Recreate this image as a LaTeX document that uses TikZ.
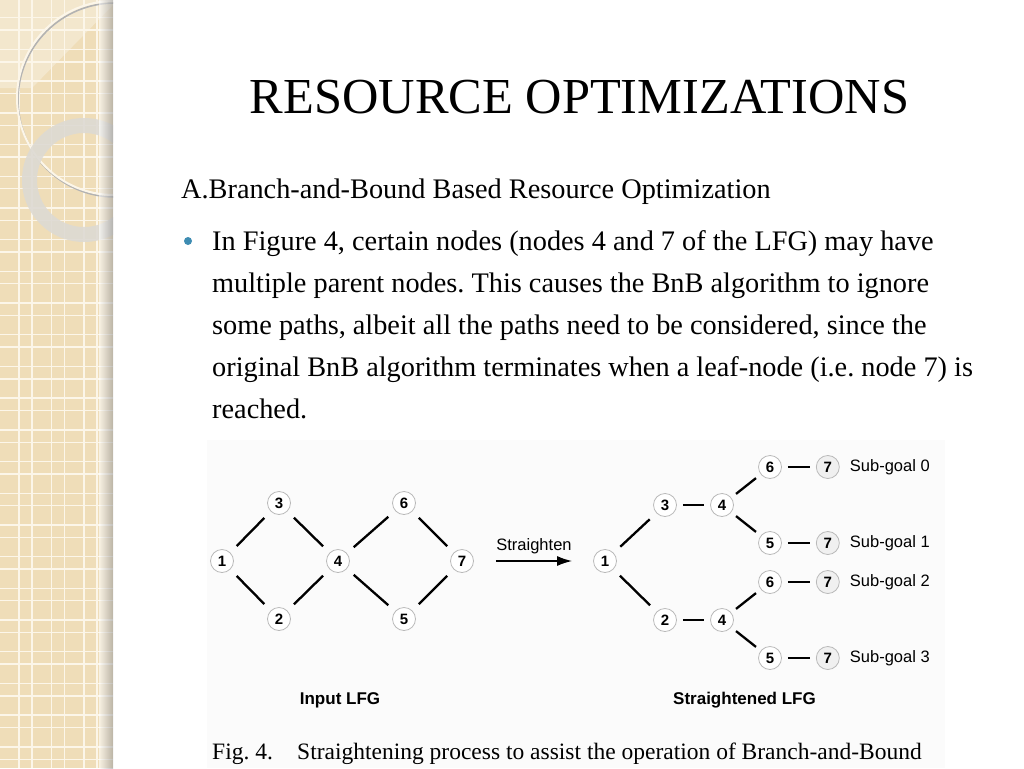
\documentclass[tikz,border=0pt]{standalone}
\usepackage{fontspec}
\setmainfont{Liberation Serif}
\setsansfont{Liberation Sans}
\usetikzlibrary{arrows.meta}
\usetikzlibrary{positioning}
\frenchspacing

\definecolor{stripbg}{RGB}{239,221,184}
\definecolor{stripline}{RGB}{252,246,233}
\definecolor{ringgray}{RGB}{221,218,211}
\definecolor{bulletblue}{RGB}{62,140,178}
\definecolor{figbg}{RGB}{251,251,251}

\tikzset{
	lfg/.style={circle,draw=gray!55,fill=white,line width=0.8pt,minimum size=23pt,inner sep=0pt,
		font=\sffamily\bfseries\fontsize{15}{16}\selectfont},
	leaf/.style={lfg,fill=gray!12},
	lfgedge/.style={line width=2.3pt,shorten >=6pt,shorten <=6pt},
	sublabel/.style={inner sep=0pt,font=\sffamily\fontsize{16.5}{18}\selectfont},
	figlabel/.style={font=\sffamily\bfseries\fontsize{17}{20}\selectfont},
	bodytext/.style={anchor=base west,inner sep=0pt,font=\fontsize{28.3}{34}\selectfont}
}

\begin{document}
\begin{tikzpicture}[x=1pt,y=-1pt]
	\useasboundingbox (0,0) rectangle (1024,768);
	
	\begin{scope}
	\clip (0,0) rectangle (113,768);
	\fill[stripbg] (0,0) rectangle (113,768);
	\fill[white,opacity=0.3] (0,0) -- (113,0) -- (113,5) -- (32,88) -- (0,88) -- cycle;
	\foreach \k in {0,...,3}
	\draw[stripline,line width=1.4pt] ({19+32.5*\k},0) -- ({19+32.5*\k},768) ({32+32.5*\k},0) -- ({32+32.5*\k},768);
	\foreach \k in {0,...,24}
	\draw[stripline,line width=1.4pt] (0,{17.7+31.7*\k}) -- (113,{17.7+31.7*\k}) (0,{30.1+31.7*\k}) -- (113,{30.1+31.7*\k});
	\draw[black!30,line width=1.6pt] (115,100) circle (97);
	\draw[stripline,line width=2pt] (114,98) circle (97);
	\fill[ringgray,opacity=0.9,even odd rule] (84,180) circle (62) (84,180) circle (47);
	\shade[left color=stripbg!0,right color=black!40,opacity=0.6] (99,0) rectangle (113,768);
	\end{scope}
	
	\node[anchor=base,font=\fontsize{50.4}{56}\selectfont] (title) at (579.5,113) {RESOURCE OPTIMIZATIONS};
	\node[bodytext] (subhead) at (181,198) {A.Branch-and-Bound Based Resource Optimization};
	\fill[bulletblue] (188,241) circle (4);
	\foreach \txt [count=\i] in {{In Figure 4, certain nodes (nodes 4 and 7 of the LFG) may have},
		{multiple parent nodes. This causes the BnB algorithm to ignore},
		{some paths, albeit all the paths need to be considered, since the},
		{original BnB algorithm terminates when a leaf-node (i.e. node 7) is},
		{reached.}}
	\node[bodytext] (line\i) at (212,{208+42*\i}) {\txt};
	
	\fill[figbg] (207,440) rectangle (945,768);
	
	\node[lfg] (l1) at (222,561) {1};
	\node[lfg] (l3) at (279,503) {3};
	\node[lfg] (l2) at (279,619) {2};
	\node[lfg] (l4) at (338,561) {4};
	\node[lfg] (l6) at (404,503) {6};
	\node[lfg] (l5) at (404,619) {5};
	\node[lfg] (l7) at (462,561) {7};
	\foreach \a/\b in {l1/l3,l1/l2,l3/l4,l2/l4,l4/l6,l4/l5,l6/l7,l5/l7}
	\draw[lfgedge,shorten >=9pt,shorten <=9pt] (\a) -- (\b);
	
	\node[lfg] (r1) at (605,561) {1};
	\node[lfg] (r3) at (665,505) {3};
	\node[lfg] (r4a) at (722,505) {4};
	\node[lfg] (r2) at (665,620) {2};
	\node[lfg] (r4b) at (722,620) {4};
	\node[lfg] (r6a) at (770,467) {6};
	\node[lfg] (r5a) at (770,543) {5};
	\node[lfg] (r6b) at (770,582) {6};
	\node[lfg] (r5b) at (770,658) {5};
	\foreach \n/\m [count=\i from 0] in {r6a/r7a,r5a/r7b,r6b/r7c,r5b/r7d} {
		\node[leaf,right=34pt of \n] (\m) {7};
		\node[sublabel,right=10pt of \m] (goal\i) {Sub-goal \i};
		\draw[lfgedge] (\n) -- (\m);
	}
	\draw[lfgedge,shorten >=9pt,shorten <=9pt] (r1) -- (r3);
	\draw[lfgedge,shorten >=9pt,shorten <=9pt] (r1) -- (r2);
	\foreach \a/\b in {r3/r4a,r2/r4b,r4a/r6a,r4a/r5a,r4b/r6b,r4b/r5b}
	\draw[lfgedge] (\a) -- (\b);
	
	\draw[line width=1.5pt,-{Latex[length=15pt,width=10pt]}] ([xshift=22pt]l7.east) --
	node[above=3pt,font=\sffamily\fontsize{16.5}{18}\selectfont] (straight) {Straighten} ([xshift=-21pt]r1.west);
	
	\node[figlabel] (inlab) at (340,700) {Input LFG};
	\node[figlabel] (outlab) at (744.5,700) {Straightened LFG};
	\node[anchor=base west,inner sep=0pt,font=\fontsize{23.5}{28}\selectfont] (figno) at (212,759) {Fig. 4.};
	\node[anchor=base west,inner sep=0pt,font=\fontsize{23.5}{28}\selectfont] (caption) at (297,759)
	{Straightening process to assist the operation of Branch-and-Bound};
\end{tikzpicture}
\end{document}
